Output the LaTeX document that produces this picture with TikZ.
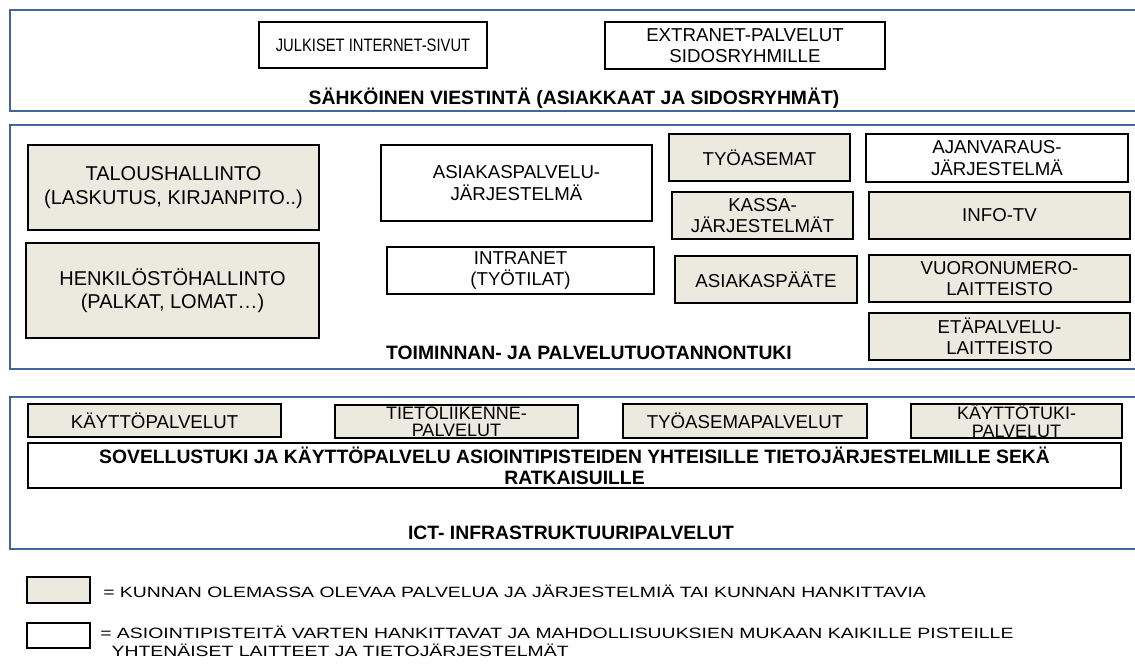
\documentclass[tikz,border=0pt]{standalone}
\usepackage{fontspec}
\setmainfont{Liberation Sans}
\newfontfamily\legendfont{Liberation Sans}[FakeStretch=1.3]
\newfontfamily\narrowfont{Liberation Sans}[FakeStretch=0.82]
\usepackage{tikz}
\usetikzlibrary{positioning}
\definecolor{pframe}{HTML}{41669B}
\definecolor{pbeige}{HTML}{ECE9DF}

\begin{document}
\begin{tikzpicture}[x=0.75pt,y=-0.75pt,
    panel/.style={draw=pframe,line width=2.2pt},
    whitebox/.style={draw=black,line width=2pt,fill=white},
    beigebox/.style={whitebox,fill=pbeige},
    boxtext/.style={align=center,inner sep=0pt,font=\fontsize{14}{16}\selectfont},
    tighttext/.style={boxtext,font=\fontsize{13.5}{13}\selectfont},
    bigtext/.style={boxtext,font=\fontsize{15}{17.5}\selectfont},
    paneltitle/.style={align=center,inner sep=0pt,font=\bfseries\fontsize{14.5}{16}\selectfont},
    legendtext/.style={anchor=west,align=left,inner sep=0pt,font=\legendfont\fontsize{11.2}{13.5}\selectfont}]
      \useasboundingbox (0,0) rectangle (1135,668);

      % Sahkoinen viestinta (top band)
      \draw[panel] (10,10) rectangle (1150,111);
      \draw[whitebox] (259,22) rectangle node[boxtext,font=\narrowfont\fontsize{13.5}{16}\selectfont] (julkiset)
        {JULKISET INTERNET-SIVUT} (487,68);
      \draw[whitebox] (605,22) rectangle node[boxtext] (extranet)
        {EXTRANET-PALVELUT\\SIDOSRYHMILLE} (885,69);
      \node[paneltitle] (viestinta) at (574,98)
        {SÄHKÖINEN VIESTINTÄ (ASIAKKAAT JA SIDOSRYHMÄT)};

      % Toiminnan- ja palvelutuotannontuki (middle band)
      \draw[panel] (10,125) rectangle (1150,369);
      \draw[beigebox] (28,145) rectangle node[bigtext] (talous)
        {TALOUSHALLINTO\\(LASKUTUS, KIRJANPITO..)} (319,230);
      \draw[beigebox] (26,243) rectangle node[bigtext] (henkilosto)
        {HENKILÖSTÖHALLINTO\\(PALKAT, LOMAT…)} (319,338);
      \draw[whitebox] (381,145) rectangle node[boxtext] (asiakaspalvelu)
        {ASIAKASPALVELU-\\JÄRJESTELMÄ} (652,221);
      \draw[whitebox] (387,247) rectangle node[boxtext] (intranet)
        {INTRANET\\(TYÖTILAT)} (654,294);
      \draw[beigebox] (669,134) rectangle node[boxtext] (tyoasemat)
        {TYÖASEMAT} (850,181);
      \draw[beigebox] (672,192) rectangle node[boxtext] (kassa)
        {KASSA-\\JÄRJESTELMÄT} (853,239);
      \draw[beigebox] (675,256) rectangle node[boxtext] (asiakaspaate)
        {ASIAKASPÄÄTE} (857,303);
      \draw[whitebox] (866,134) rectangle node[boxtext] (ajanvaraus)
        {AJANVARAUS-\\JÄRJESTELMÄ} (1128,182);
      \draw[beigebox] (869,192) rectangle node[boxtext] (infotv)
        {INFO-TV} (1130,239);
      \draw[beigebox] (869,255) rectangle node[boxtext] (vuoronumero)
        {VUORONUMERO-\\LAITTEISTO} (1130,302);
      \draw[beigebox] (869,313) rectangle node[boxtext] (etapalvelu)
        {ETÄPALVELU-\\LAITTEISTO} (1130,360);
      \node[paneltitle] (palvelutuki) at (589,353)
        {TOIMINNAN- JA PALVELUTUOTANNONTUKI};

      % ICT-infrastruktuuripalvelut (bottom band)
      \draw[panel] (10,397) rectangle (1150,549);
      \draw[beigebox] (28,404) rectangle node[boxtext] (kaytto)
        {KÄYTTÖPALVELUT} (281,437);
      \draw[beigebox] (335,405) rectangle node[tighttext] (tietoliikenne)
        {TIETOLIIKENNE-\\PALVELUT} (578,438);
      \draw[beigebox] (623,404) rectangle node[boxtext] (tyoasemapalvelut)
        {TYÖASEMAPALVELUT} (867,438);
      \draw[beigebox] (911,404) rectangle node[tighttext] (kayttotuki)
        {KÄYTTÖTUKI-\\PALVELUT} (1122,438);
      \draw[whitebox] (28,443) rectangle node[paneltitle] (sovellustuki)
        {SOVELLUSTUKI JA KÄYTTÖPALVELU ASIOINTIPISTEIDEN YHTEISILLE TIETOJÄRJESTELMILLE SEKÄ\\RATKAISUILLE} (1121,488);
      \node[paneltitle] (ict) at (571,533) {ICT- INFRASTRUKTUURIPALVELUT};

      % Legend
      \draw[beigebox] (27,577) rectangle node (legbeige) {} (90,603);
      \draw[whitebox] (27,623) rectangle node (legwhite) {} (90,648);
      \node[legendtext] (legbeigetext) at (103,591)
        {= KUNNAN OLEMASSA OLEVAA PALVELUA JA JÄRJESTELMIÄ TAI KUNNAN HANKITTAVIA};
      \node[legendtext] (legwhitetext) at (100,641)
        {= ASIOINTIPISTEITÄ VARTEN HANKITTAVAT JA MAHDOLLISUUKSIEN MUKAAN KAIKILLE PISTEILLE\\
         \hphantom{=}YHTENÄISET LAITTEET JA TIETOJÄRJESTELMÄT};
\end{tikzpicture}
\end{document}
